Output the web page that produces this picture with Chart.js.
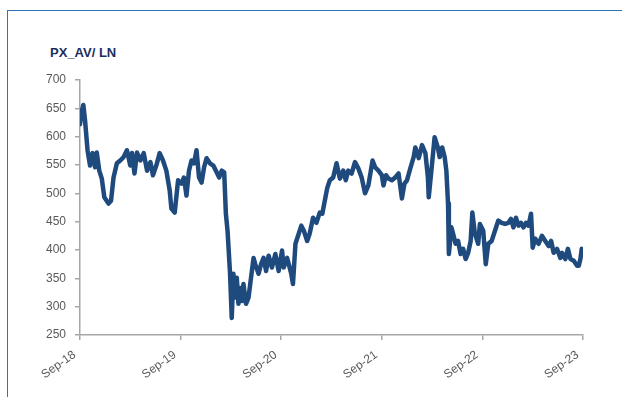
<!DOCTYPE html>
<html>
<head>
<meta charset="utf-8">
<script src="https://cdn.jsdelivr.net/npm/chart.js@4"></script>
<style>
  html, body { margin: 0; padding: 0; background: #fff; }
  #wrap { position: relative; width: 622px; height: 397px; overflow: hidden; }
  #frameTop { position: absolute; left: 7px; top: 10px; width: 615px; height: 0; border-top: 1.5px solid #2E75B6; }
  #frameLeft { position: absolute; left: 7px; top: 10px; width: 0; height: 387px; border-left: 1.5px solid #2E75B6; }
  #title { position: absolute; left: 50px; top: 45px; font: bold 13px "Liberation Sans", Arial, sans-serif; color: #1B2F5E; }
  canvas { position: absolute; left: 0; top: 0; }
</style>
</head>
<body>
<div id="wrap">
  <div id="frameTop"></div>
  <div id="frameLeft"></div>
  <div id="title">PX_AV/ LN</div>
  <canvas id="myChart" width="622" height="397"></canvas>
</div>
<script>
// months since Sep-18
const months = [
  0, 0.2, 0.4, 0.6, 0.9, 1.2, 1.5, 1.8, 2.0, 2.3, 2.6, 2.9, 3.4, 3.7, 4.0, 4.4, 4.8, 5.2, 5.6, 6.0,
  6.2, 6.5, 6.8, 7.2, 7.6, 8.0, 8.4, 8.7, 9.1, 9.5, 9.9, 10.3, 10.7, 10.9, 11.3,
  11.7, 12.1, 12.4, 12.7, 13.0, 13.3, 13.6, 13.9, 14.2, 14.5, 14.8, 15.1, 15.5, 15.9, 16.3, 16.6,
  16.9, 17.2, 17.4, 17.6, 17.9, 18.1, 18.3, 18.5, 18.7, 18.9, 19.1, 19.3, 19.5, 19.8, 20.1, 20.4,
  20.7, 20.9, 21.3, 21.6, 21.9, 22.2, 22.5, 22.9, 23.3, 23.7, 24.1,
  24.3, 24.7, 24.9, 25.2, 25.4, 25.7, 26.1, 26.4, 26.7, 27.1, 27.4, 27.8, 28.2, 28.6, 28.9, 29.2,
  29.5, 29.8, 30.2, 30.6, 31.0, 31.4, 31.7, 32.0, 32.4, 32.8, 33.2, 33.6, 34.0, 34.4, 34.9, 35.2, 35.6,
  36.0, 36.2, 36.5, 36.8, 37.2, 37.6, 38.0, 38.4, 38.7, 39.0, 39.4, 39.8, 40.0, 40.4, 40.8, 41.2,
  41.5, 41.6, 42.0, 42.3, 42.7, 42.9, 43.2, 43.5, 43.7, 43.9, 44.0, 44.3, 44.5, 44.8, 45.1, 45.4,
  45.7, 46.0, 46.3, 46.6, 46.8, 47.1,
  47.5, 47.7, 48.1, 48.4, 48.7, 49.1, 49.5, 49.9, 50.3, 50.7, 51.1, 51.4, 51.7, 52.0, 52.3, 52.6,
  52.9, 53.2, 53.5, 53.8, 54.0, 54.3, 54.7, 55.1, 55.5, 55.9, 56.2, 56.5, 56.9, 57.3, 57.5, 57.9,
  58.2, 58.5, 58.9, 59.3, 59.5, 59.7, 59.85
];

const prices = [
  622, 645, 656, 629, 576, 549, 571, 546, 572, 540, 526, 493, 482, 487, 528, 553, 558, 564, 576, 549,
  571, 535, 572, 558, 571, 540, 555, 532, 549, 571, 558, 540, 505, 473, 466,
  523, 517, 528, 496, 540, 558, 553, 576, 528, 519, 546, 562, 553, 549, 537, 528,
  540, 537, 464, 434, 358, 280, 358, 316, 351, 305, 333, 310, 340, 305, 316, 351,
  386, 375, 358, 375, 386, 363, 390, 369, 393, 363, 399,
  369, 386, 375, 358, 340, 411, 429, 443, 434, 416, 429, 457, 448, 466, 464, 487,
  510, 523, 528, 553, 526, 540, 523, 540, 535, 555, 544, 528, 500, 514, 558, 546, 540,
  532, 514, 532, 526, 523, 528, 535, 491, 517, 523, 544, 564, 581, 562, 585, 571,
  528, 493, 553, 599, 580, 564, 581, 564, 540, 482, 393, 440, 429, 411, 416, 393,
  402, 384, 395, 416, 466, 429,
  411, 446, 434, 375, 411, 416, 434, 452, 448, 446, 448, 455, 440, 457, 443, 448,
  440, 448, 443, 464, 404, 420, 411, 425, 416, 407, 416, 395, 402, 386, 395, 384,
  402, 384, 381, 372, 372, 385, 402
];

const tickLabels = ["Sep-18", "Sep-19", "Sep-20", "Sep-21", "Sep-22", "Sep-23"];

const points = months.map((m, i) => ({ x: m, y: prices[i] }));

const tickFont = { family: "'Liberation Sans', Arial, sans-serif", size: 12 };

const myChart = new Chart(document.getElementById("myChart"), {
  type: "line",
  data: {
    datasets: [
      {
        label: "PX_AV/ LN",
        data: points,
        borderColor: "#1F4A7E",
        borderWidth: 4.5,
        borderJoinStyle: "round",
        borderCapStyle: "round",
        pointRadius: 0,
        tension: 0,
        fill: false,
      },
    ],
  },
  options: {
    responsive: false,
    animation: false,
    layout: { padding: { left: 25, top: 80, right: 39, bottom: 12 } },
    plugins: { legend: { display: false }, tooltip: { enabled: false } },
    scales: {
      x: {
        type: "linear",
        min: 0,
        max: 60,
        afterFit: (scale) => { scale.height = 50; },
        border: { color: "#A6A6A6", width: 1.5 },
        grid: { drawOnChartArea: false, tickLength: 5, color: "#A6A6A6", lineWidth: 1.5 },
        ticks: {
          stepSize: 12,
          minRotation: 35,
          maxRotation: 35,
          color: "#595959",
          font: tickFont,
          padding: 4,
          callback: (v) => tickLabels[v / 12] + "  ",
        },
      },
      y: {
        min: 250,
        max: 700,
        afterFit: (scale) => { scale.width = 55; },
        border: { color: "#A6A6A6", width: 1.5 },
        grid: { drawOnChartArea: false, tickLength: 5, color: "#A6A6A6", lineWidth: 1.5 },
        ticks: { stepSize: 50, color: "#595959", font: tickFont, padding: 9 },
      },
    },
  },
});
</script>
</body>
</html>
